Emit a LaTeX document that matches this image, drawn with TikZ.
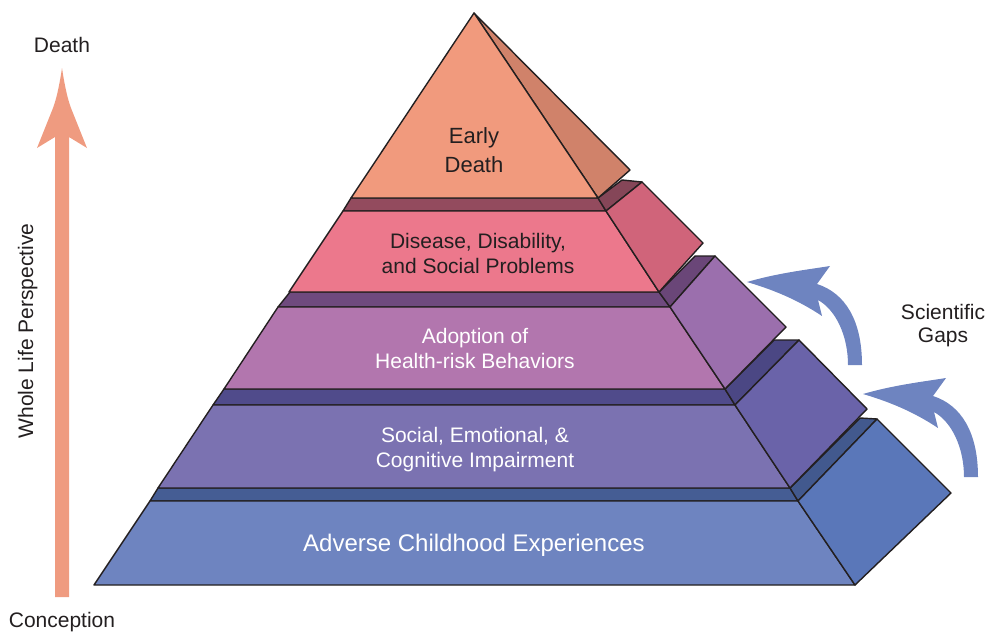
\documentclass[tikz,border=0pt]{standalone}
\usepackage{fontspec}
\setmainfont{Liberation Sans}
\begin{document}
\begin{tikzpicture}[x=1pt,y=-1pt,
  face/.style={draw=edge,line width=1.4pt,line join=round},
  darktext/.style={text=txt,inner sep=0pt,anchor=base},
  whitetext/.style={text=white,inner sep=0pt,anchor=base},
]
\definecolor{edge}{HTML}{231F20}
\definecolor{txt}{HTML}{231F20}
\definecolor{aF}{HTML}{F19A7D}\definecolor{aS}{HTML}{D0826A}
\definecolor{bB}{HTML}{934B5E}\definecolor{bBS}{HTML}{854658}\definecolor{bF}{HTML}{EC788C}\definecolor{bS}{HTML}{D0647A}
\definecolor{cB}{HTML}{6F4A7E}\definecolor{cBS}{HTML}{6A4678}\definecolor{cF}{HTML}{B276AE}\definecolor{cS}{HTML}{9B6FAD}
\definecolor{dB}{HTML}{504B8B}\definecolor{dBS}{HTML}{4B4784}\definecolor{dF}{HTML}{7B72B1}\definecolor{dS}{HTML}{6A63A9}
\definecolor{eB}{HTML}{455D94}\definecolor{eBS}{HTML}{42598E}\definecolor{eF}{HTML}{6E84C0}\definecolor{eS}{HTML}{5A77B9}
\definecolor{gap}{HTML}{6E84C0}
\definecolor{life}{HTML}{EF9B80}
\useasboundingbox (0,0) rectangle (988,632);

% ---- layer 5 (bottom)
\filldraw[face,fill=eB] (158,488) -- (790,488) -- (798,501) -- (150,501) -- cycle;
\filldraw[face,fill=eBS] (790,488) -- (860,418) -- (877,419) -- (798,501) -- cycle;
\filldraw[face,fill=eF] (150,501) -- (798,501) -- (855,585) -- (94,585) -- cycle;
\filldraw[face,fill=eS] (798,501) -- (877,419) -- (951,493) -- (855,585) -- cycle;
% ---- layer 4
\filldraw[face,fill=dB] (224,389) -- (725,389) -- (735,405) -- (213,405) -- cycle;
\filldraw[face,fill=dBS] (725,389) -- (774,340) -- (799,340) -- (735,405) -- cycle;
\filldraw[face,fill=dF] (213,405) -- (735,405) -- (790,488) -- (158,488) -- cycle;
\filldraw[face,fill=dS] (735,405) -- (799,340) -- (867,409) -- (790,488) -- cycle;
% ---- layer 3
\filldraw[face,fill=cB] (290,292) -- (659,292) -- (670,307) -- (278,307) -- cycle;
\filldraw[face,fill=cBS] (659,292) -- (695,256) -- (715,256) -- (670,307) -- cycle;
\filldraw[face,fill=cF] (278,307) -- (670,307) -- (725,389) -- (224,389) -- cycle;
\filldraw[face,fill=cS] (670,307) -- (715,256) -- (786,327) -- (725,389) -- cycle;
% ---- layer 2
\filldraw[face,fill=bB] (351,198) -- (598,198) -- (606,211) -- (343,211) -- cycle;
\filldraw[face,fill=bBS] (598,198) -- (622,180) -- (642,182) -- (606,211) -- cycle;
\filldraw[face,fill=bF] (343,211) -- (606,211) -- (659,292) -- (289,292) -- cycle;
\filldraw[face,fill=bS] (606,211) -- (642,182) -- (703,243) -- (659,292) -- cycle;
% ---- top
\filldraw[face,fill=aS] (474,13) -- (630,170) -- (598,198) -- cycle;
\filldraw[face,fill=aF] (474,13) -- (598,198) -- (351,198) -- cycle;

% ---- layer texts
\node[darktext,font=\fontsize{22}{26}\selectfont] (t1a) at (474,143) {Early};
\node[darktext,font=\fontsize{22}{26}\selectfont] (t1b) at (474,172) {Death};
\node[darktext,font=\fontsize{21}{25}\selectfont] (t2a) at (478,248) {Disease, Disability,};
\node[darktext,font=\fontsize{21}{25}\selectfont] (t2b) at (478,273) {and Social Problems};
\node[whitetext,font=\fontsize{21}{25}\selectfont] (t3a) at (475,343) {Adoption of};
\node[whitetext,font=\fontsize{21}{25}\selectfont] (t3b) at (475,368) {Health-risk Behaviors};
\node[whitetext,font=\fontsize{21}{25}\selectfont] (t4a) at (475,442) {Social, Emotional, \&};
\node[whitetext,font=\fontsize{21}{25}\selectfont] (t4b) at (475,467) {Cognitive Impairment};
\node[whitetext,font=\fontsize{24}{28}\selectfont] (t5) at (474,551) {Adverse Childhood Experiences};

% ---- life arrow
\fill[life] (62,68) .. controls (59,88) and (56,100) .. (53,108) -- (37,148) -- (55,137) -- (55,597)
  -- (69,597) -- (69,137) -- (87,148) -- (71,108) .. controls (68,100) and (65,88) .. (62,68) -- cycle;
\node[darktext,font=\fontsize{21}{25}\selectfont] (death) at (62,52) {Death};
\node[darktext,font=\fontsize{21}{25}\selectfont] (conc) at (62,627) {Conception};
\node[darktext,font=\fontsize{21}{25}\selectfont,rotate=90] (whole) at (33,331) {Whole Life Perspective};

% ---- scientific gap arrows
\foreach \dx/\dy in {0/0,116/112}{
\begin{scope}[shift={(\dx,\dy)}]
\fill[gap] (747,282) .. controls (778,273) and (805,270) .. (830,266) -- (817,284)
  .. controls (845,293) and (862,320) .. (862,365) -- (848,365)
  .. controls (848,336) and (836,310) .. (818,300) -- (822,316)
  .. controls (798,300) and (774,290) .. (747,282) -- cycle;
\end{scope}}
\node[darktext,font=\fontsize{21}{25}\selectfont] (sci) at (943,319) {Scientific};
\node[darktext,font=\fontsize{21}{25}\selectfont] (gaps) at (943,342) {Gaps};
\end{tikzpicture}
\end{document}
